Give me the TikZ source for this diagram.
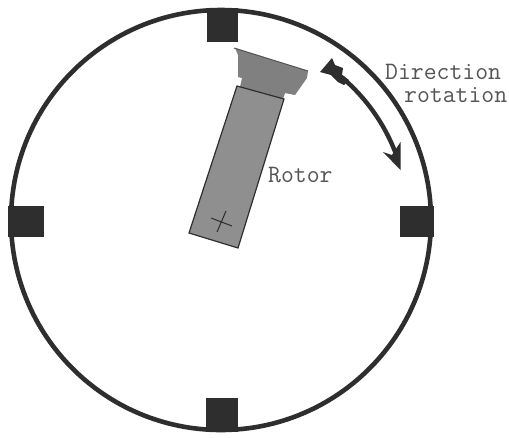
\documentclass[tikz,border=0pt]{standalone}
\definecolor{ink}{HTML}{2E2E2E}
\definecolor{body}{HTML}{8F8F8F}
\definecolor{headgray}{HTML}{808080}
\definecolor{labelgray}{HTML}{555555}
\begin{document}
\begin{tikzpicture}[x=1pt,y=-1pt,
  pole/.style={fill=ink,draw=none},
  lab/.style={font=\ttfamily\fontsize{25}{28}\selectfont,text=labelgray,inner sep=0pt}]
\useasboundingbox (0,0) rectangle (509,437);
\fill[white] (0,0) rectangle (509,437);
\coordinate (c) at (221,220);
\draw[ink,line width=4.6pt] (c) circle[radius=210];
\fill[pole] (207,8) rectangle (238,42);
\fill[pole] (400,206) rectangle (434,237);
\fill[pole] (8,206) rectangle (44,237);
\fill[pole] (206,398) rectangle (238,432);
% rotor head
\fill[headgray] (235,48) -- (308,71) -- (307,78) -- (295,95) -- (285,93) -- (283,99) -- (240,87) -- (242,78) -- (238,77) -- (238,55) -- cycle;
\draw[labelgray,line width=1pt] (234,48) -- (308,71);
% rotor body
\draw[fill=body,draw=ink,line width=1.2pt] (237,86) -- (284,99) -- (238,248) -- (189,233) -- cycle;
% pivot mark
\draw[ink,line width=1pt] (226,211) -- (217,232) (211,218) -- (232,226);
% direction arrow
\draw[ink,line width=4.4pt] (c) ++(-50:187) arc[start angle=-50,end angle=-19,radius=187];
\fill[ink] (320,72) -- (332,58) -- (335,65) -- (343,68) -- (342,75) -- (349,80) -- (344,85) -- (338,82) -- (331,75) -- cycle;
\fill[ink] (400.5,170) -- (383,152) -- (392,155) -- (400.5,142) -- cycle;
\node[lab,anchor=base west] (dir) at (385,79) {Direction};
\node[lab,anchor=base west] (rot) at (404,102) {rotation};
\node[lab,anchor=base west] (rotor) at (268,182) {Rotor};
\end{tikzpicture}
\end{document}
